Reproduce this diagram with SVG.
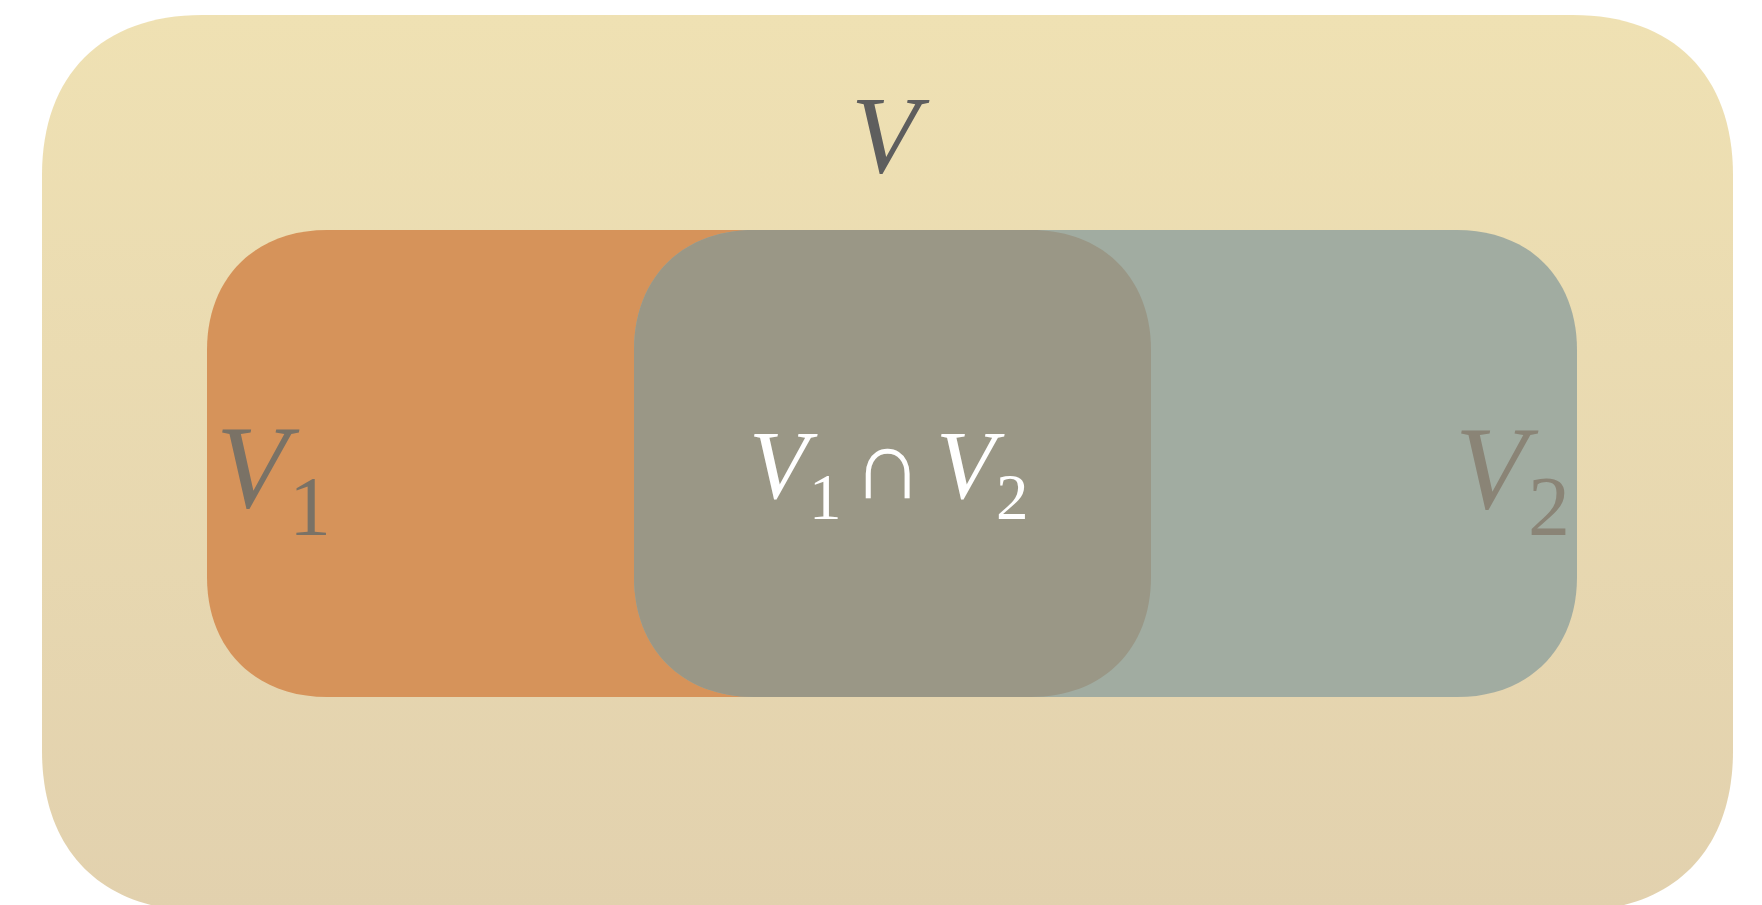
<svg xmlns="http://www.w3.org/2000/svg" width="1762" height="905" viewBox="0 0 1762 905">
<style>
.lab{font-family:"Times New Roman","Liberation Serif",serif;}
.it{font-style:italic;}
.up{font-style:normal;}
</style>
<defs>
<linearGradient id="bg" x1="0" y1="0" x2="0" y2="1">
<stop offset="0" stop-color="#EFE1B3"/>
<stop offset="1" stop-color="#E2D1AE"/>
</linearGradient>
</defs>
<g id="V">
<path d="M202,15 H1573 C1673,15 1733,75 1733,175 V751 C1733,851 1673,911 1573,911 H202 C102,911 42,851 42,751 V175 C42,75 102,15 202,15 Z" fill="url(#bg)"/>
<text class="lab it" x="851" y="172" font-size="111" fill="#5E5E5E">V</text>
</g>
<g id="V1">
<path d="M327,230 H1031 C1103,230 1151,278 1151,350 V577 C1151,649 1103,697 1031,697 H327 C255,697 207,649 207,577 V350 C207,278 255,230 327,230 Z" fill="#D6935A"/>
<text class="lab" fill="#7A7266"><tspan class="it" x="216" y="507" font-size="118">V</tspan><tspan class="up" x="289" y="535" font-size="84">1</tspan></text>
</g>
<g id="V2">
<path d="M754,230 H1457 C1529,230 1577,278 1577,350 V577 C1577,649 1529,697 1457,697 H754 C682,697 634,649 634,577 V350 C634,278 682,230 754,230 Z" fill="#A1ACA1"/>
<text class="lab" fill="#8A8476"><tspan class="it" x="1455" y="508" font-size="118">V</tspan><tspan class="up" x="1528" y="535" font-size="84">2</tspan></text>
</g>
<g id="V1capV2">
<path d="M754,230 H1031 C1103,230 1151,278 1151,350 V577 C1151,649 1103,697 1031,697 H754 C682,697 634,649 634,577 V350 C634,278 682,230 754,230 Z" fill="#9A9786"/>
<text class="lab" fill="#FFFFFF"><tspan class="it" x="749" y="498" font-size="97">V</tspan><tspan class="up" x="809" y="519" font-size="65">1</tspan><tspan class="up" x="888" y="498" font-size="98" text-anchor="middle">∩</tspan><tspan class="it" x="936" y="498" font-size="97">V</tspan><tspan class="up" x="996" y="519" font-size="65">2</tspan></text>
</g>
<g id="connectors"></g>
</svg>
